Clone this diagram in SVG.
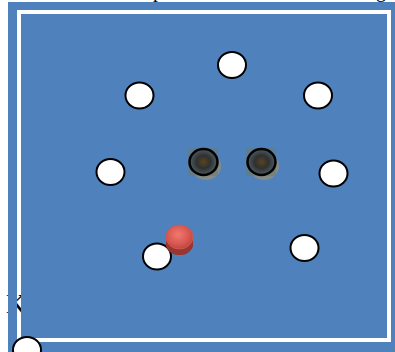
<svg xmlns="http://www.w3.org/2000/svg" width="395" height="352" viewBox="0 0 395 352">
<style>
.node{fill:#ffffff;stroke:#000000;stroke-width:2}
.ser{font-family:"Liberation Serif","Times New Roman",serif;fill:#000000}
</style>
<defs>
<radialGradient id="dark" cx="50%" cy="50%" r="55%">
<stop offset="0" stop-color="#5a4320"/>
<stop offset="0.45" stop-color="#2e3030"/>
<stop offset="1" stop-color="#55646e"/>
</radialGradient>
<radialGradient id="red" cx="45%" cy="40%" r="60%">
<stop offset="0" stop-color="#f07a70"/>
<stop offset="0.7" stop-color="#d85550"/>
<stop offset="1" stop-color="#c04540"/>
</radialGradient>
</defs>
<rect x="0" y="0" width="395" height="352" fill="#ffffff"/>
<text class="ser" x="153" y="-3" font-size="20">p</text>
<text class="ser" x="376" y="-3" font-size="20">g</text>
<text class="ser" x="6" y="313" font-size="28">K</text>
<path d="M8 2H395V352H8Z M17 10V342H391V10Z" fill="#4F81BD" fill-rule="evenodd"/>
<rect x="21" y="14" width="366" height="324" fill="#4F81BD"/>
<g id="connectors"/>
<g id="n1"><ellipse class="node" cx="232" cy="65" rx="14" ry="13"/></g>
<g id="n2"><ellipse class="node" cx="139.5" cy="95.5" rx="14" ry="13"/></g>
<g id="n3"><ellipse class="node" cx="318" cy="95.5" rx="14" ry="13"/></g>
<g id="n4"><ellipse class="node" cx="110.5" cy="172" rx="14" ry="13"/></g>
<g id="n5"><ellipse class="node" cx="333.5" cy="173.5" rx="14" ry="13"/></g>
<g id="n6"><ellipse class="node" cx="304.5" cy="248" rx="14" ry="13"/></g>
<g id="n7"><ellipse class="node" cx="157" cy="256.5" rx="14" ry="13"/></g>
<g id="n8"><ellipse class="node" cx="27" cy="350" rx="14" ry="13"/></g>
<g id="d1">
<ellipse cx="206" cy="166" rx="15" ry="14" fill="#9a9070" opacity="0.7"/>
<rect x="188" y="148" width="30" height="28" fill="#6a7a70" opacity="0.5"/>
<ellipse cx="203.5" cy="162" rx="14" ry="13" fill="url(#dark)" stroke="#000" stroke-width="2.5"/>
</g>
<g id="d2">
<ellipse cx="264" cy="166" rx="15" ry="14" fill="#9a9070" opacity="0.7"/>
<rect x="246" y="148" width="30" height="28" fill="#6a7a70" opacity="0.5"/>
<ellipse cx="261.5" cy="162" rx="14" ry="13" fill="url(#dark)" stroke="#000" stroke-width="2.5"/>
</g>
<g id="r1">
<path d="M166 238V244A13.5 11 0 0 0 193 244V238Z" fill="#9a3530"/>
<ellipse cx="179.5" cy="244" rx="13.5" ry="11" fill="#9a3530"/>
<ellipse cx="179.5" cy="237" rx="13.5" ry="12" fill="url(#red)" stroke="#c85a55" stroke-width="1"/>
</g>
</svg>
